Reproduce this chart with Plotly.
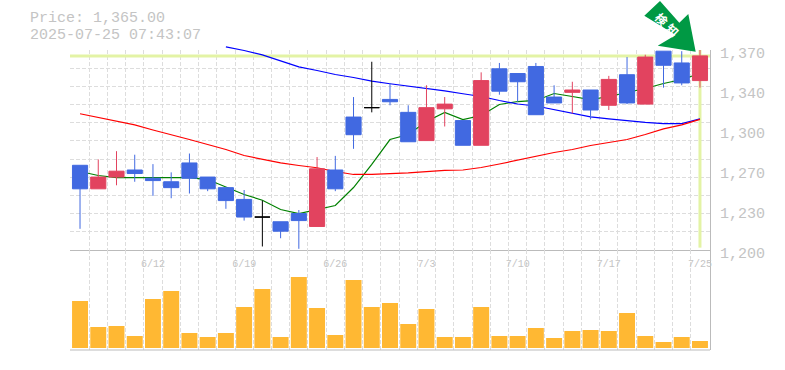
import plotly.graph_objects as go

dates = ["6/6","6/9","6/10","6/11","6/12","6/13","6/16","6/17","6/18","6/19","6/20","6/23","6/24","6/25","6/26","6/27","6/30",
         "7/1","7/2","7/3","7/4","7/7","7/8","7/9","7/10","7/11","7/14","7/15","7/16","7/17","7/18","7/22","7/23","7/24","7/25"]
opens = [1272,1252,1262,1268,1261,1258,1274,1262,1253,1243,1228,1224,1231,1220,1268,1313,1321,1328,1317,1293,1320,1310,1289,1354,1350,1356,1330,1334,1336,1323,1349,1324,1369,1359,1344]
highs = [1272,1277,1284,1281,1273,1266,1282,1262,1253,1251,1242,1224,1234,1279,1280,1330,1360,1342,1323,1340,1330,1310,1351,1359,1350,1359,1340,1343,1336,1348,1364,1366,1369,1369,1370]
lows = [1218,1252,1255,1258,1246,1244,1248,1250,1235,1225,1203,1210,1201,1220,1250,1286,1317,1323,1292,1293,1305,1289,1289,1332,1326,1315,1325,1316,1311,1319,1324,1324,1338,1340,1338]
closes = [1252,1262,1267,1265,1259,1253,1261,1252,1242,1228,1228,1216,1225,1269,1252,1298,1321,1326,1292,1321,1324,1289,1344,1335,1343,1315,1325,1336,1319,1345,1325,1364,1357,1342,1365]
volumes = [47000,21000,22000,12000,49000,57000,15000,11000,15000,41000,59000,11000,71000,40000,13000,68000,41000,45000,24000,39000,11000,11000,41000,12000,12000,20000,10000,17000,18000,17000,35000,12000,6000,11000,7000]
ma_short = [1266.7,1263.3,1261.6,1261.6,1261.6,1261.6,1261.6,1259.9,1253.7,1247.2,1242.3,1234.4,1231,1234.4,1237.8,1253.1,1272.7,1293.9,1298.2,1309.2,1316.9,1310.9,1314.3,1323.7,1326.2,1327.1,1333,1330.5,1327.9,1330.5,1333.9,1337.3,1341.5,1344.9,1350]
ma_mid = [None]*8 + [1372.7,1369.6,1365.8,1360.7,1355.6,1352.6,1349.2,1346.6,1343.5,1341.3,1339.4,1337.7,1335.2,1332.8,1330.5,1327.1,1324.1,1322.4,1319.4,1316,1313.2,1311.4,1309.7,1308.4,1307.5,1307.5,1311.4]
ma_long = [1315.8,1312.6,1309.7,1306.3,1302,1298.2,1293.9,1289.7,1285.4,1280.3,1276.9,1274,1271.8,1269.9,1266.7,1264.2,1264.2,1264.6,1265.5,1266.7,1267.7,1268,1270.1,1273.1,1276.5,1279.5,1282.9,1285.4,1288.8,1291.4,1293.9,1298.2,1302.9,1306.3,1311]
price_ticks = [1370,1336,1302,1268,1234,1200]
price_labels = ["1,370","1,340","1,300","1,270","1,230","1,200"]
date_tick_idx = [4,9,14,19,24,29,34]
last_price = 1365
last_low_mark = 1202
price_top = 1370
price_headroom_top = 1373.4
info_lines = ["Price: 1,365.00","2025-07-25 07:43:07"]
badge = "検知"

idx = list(range(len(dates)))
L, R, T, B = 70, 710, 46, 350
px = lambda v: (v-L)/(R-L)
py = lambda v: (B-v)/(B-T)
split = py(250)
price_top_frac = py(50)

BLUE, RED = "#4169E1", "#E2435F"
GRID, AXIS, TXT, HILITE = "#dddddd", "#bbbbbb", "#c4c4c4", "#E3F3A5"
MONO = "Liberation Mono, monospace"
is_doji = [o == c for o, c in zip(opens, closes)]
pick = lambda arr, flag: [a if d == flag else None for a, d in zip(arr, is_doji)]
x_range = [-0.55, len(dates)-1+0.55]

fig = go.Figure()
# highlight of the last price and last date, on the axis pair that carries the grid and labels
fig.add_trace(go.Scatter(x=x_range,y=[last_price,last_price],mode="lines",line=dict(color=HILITE,width=3),showlegend=False,hoverinfo="skip"))
fig.add_trace(go.Scatter(x=[idx[-1],idx[-1]],y=[last_low_mark,price_top],mode="lines",line=dict(color=HILITE,width=3),showlegend=False,hoverinfo="skip"))
# moving averages sit on an axis with a little headroom: one of them runs above the frame
for vals, col in ((ma_short,"#008000"),(ma_mid,"#0000ff"),(ma_long,"#ff0000")):
    fig.add_trace(go.Scatter(x=idx,y=vals,xaxis="x3",yaxis="y3",mode="lines",line=dict(color=col,width=1.2),
                             showlegend=False,hoverinfo="skip"))
fig.add_trace(go.Candlestick(x=idx,xaxis="x3",yaxis="y4",open=pick(opens,False),high=pick(highs,False),low=pick(lows,False),close=pick(closes,False),
    increasing=dict(line=dict(color=RED,width=1),fillcolor=RED),
    decreasing=dict(line=dict(color=BLUE,width=1),fillcolor=BLUE),
    whiskerwidth=0,showlegend=False))
fig.add_trace(go.Candlestick(x=idx,xaxis="x3",yaxis="y4",open=pick(opens,True),high=pick(highs,True),low=pick(lows,True),close=pick(closes,True),
    increasing=dict(line=dict(color="#000000",width=1),fillcolor="#000000"),
    decreasing=dict(line=dict(color="#000000",width=1),fillcolor="#000000"),
    whiskerwidth=0,showlegend=False))
fig.add_trace(go.Bar(x=idx,y=volumes,xaxis="x2",yaxis="y2",marker=dict(color="#FFB833",line=dict(width=0)),width=0.875,showlegend=False))

minor_x = dict(tick0=-0.5,dtick=1,showgrid=True,gridcolor=GRID,griddash="4px,2px",gridwidth=1,ticklen=0)
fig.update_layout(
    width=785,height=370,margin=dict(l=L,r=785-R,t=T,b=370-B,pad=0,autoexpand=False),
    paper_bgcolor="white",plot_bgcolor="rgba(0,0,0,0)",showlegend=False,boxmode="overlay",boxgap=0.17,boxgroupgap=0,
    font=dict(family=MONO,color=TXT),
    xaxis=dict(domain=[0,1],range=x_range,anchor="y",showticklabels=False,
               showgrid=False,zeroline=False,ticks="",showline=True,linecolor=AXIS,linewidth=1,
               tickvals=[],minor=minor_x),
    yaxis=dict(domain=[split,price_top_frac],range=[1200,price_top],side="right",anchor="x",tickvals=price_ticks,ticktext=price_labels,
               showgrid=False,zeroline=False,showline=True,linecolor=AXIS,linewidth=1,ticks="",
               tickfont=dict(family=MONO,size=15,color=TXT),ticklabelstandoff=6,ticklabelshift=3,
               minor=dict(tick0=1200,dtick=170/11,showgrid=True,gridcolor=GRID,griddash="4px,2px",gridwidth=1,ticklen=0)),
    xaxis3=dict(domain=[0,1],range=x_range,anchor="y3",visible=False,rangeslider=dict(visible=False),showgrid=False,zeroline=False),
    yaxis3=dict(domain=[split,1],range=[1200,price_headroom_top],anchor="x3",side="right",visible=False,showgrid=False,zeroline=False),
    yaxis4=dict(overlaying="y3",range=[1200,price_headroom_top],anchor="x3",side="right",visible=False,showgrid=False,zeroline=False),
    xaxis2=dict(domain=[0,1],range=x_range,anchor="free",position=py(256),side="top",ticklabelposition="inside",ticklabeloverflow="allow",
                tickvals=date_tick_idx,ticktext=[dates[i] for i in date_tick_idx],
                tickfont=dict(family=MONO,size=10,color=TXT),showgrid=False,zeroline=False,ticks="",
                showline=False,minor=minor_x),
    yaxis2=dict(domain=[0,split],range=[-2000,98000],anchor="x2",side="right",showticklabels=False,showgrid=False,
                zeroline=False,showline=True,linecolor=AXIS,linewidth=1,ticks=""),
    shapes=[
        dict(type="line",xref="paper",yref="paper",x0=0,x1=1,y0=0,y1=0,line=dict(color=AXIS,width=1)),
        dict(type="path",xref="paper",yref="paper",fillcolor="#009944",line=dict(width=0),layer="above",
             path="M "+" L ".join(f"{px(a)} {py(b)}" for a,b in
                  [(660,1),(644.3,15.7),(675.7,35),(657.7,45.7),(695.7,51.7),(688.3,14),(679.3,22.7)])+" Z"),
    ],
    annotations=[
        dict(text=info_lines[0],xref="paper",yref="paper",x=px(29),y=py(18.5),xanchor="left",yanchor="middle",showarrow=False,borderpad=0,
             font=dict(family=MONO,size=15,color=TXT)),
        dict(text=info_lines[1],xref="paper",yref="paper",x=px(29),y=py(35),xanchor="left",yanchor="middle",showarrow=False,borderpad=0,
             font=dict(family=MONO,size=15,color=TXT)),
        dict(text="<b>"+badge[0]+"</b>",xref="paper",yref="paper",x=px(661.5),y=py(18.5),xanchor="center",yanchor="middle",showarrow=False,textangle=45,
             font=dict(family="Noto Sans CJK JP",size=12,color="#ffffff")),
        dict(text="<b>"+badge[1]+"</b>",xref="paper",yref="paper",x=px(673),y=py(29.5),xanchor="center",yanchor="middle",showarrow=False,textangle=45,
             font=dict(family="Noto Sans CJK JP",size=12,color="#ffffff")),
    ],
)
fig.write_html("out.html",config=dict(displayModeBar=False),post_script="document.body.style.margin='0';")
